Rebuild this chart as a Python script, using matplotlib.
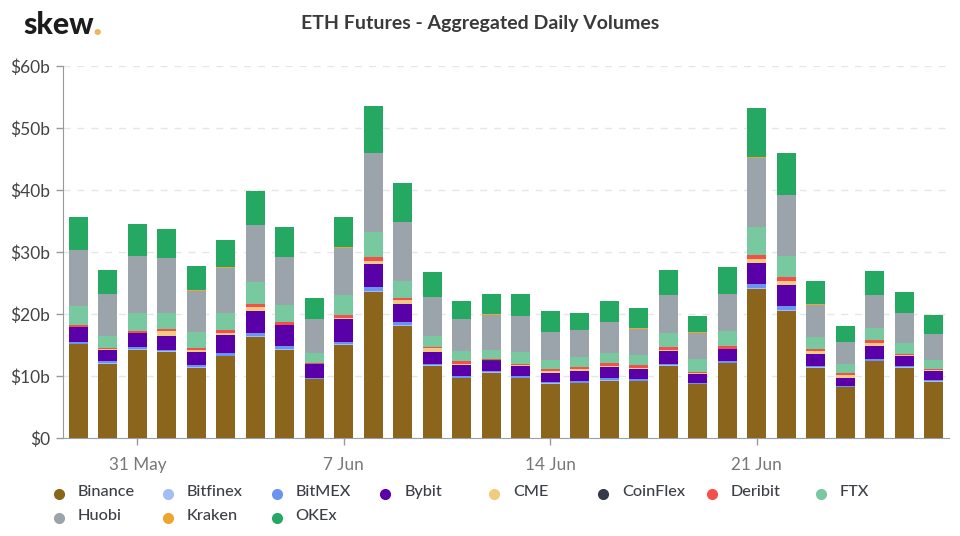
import matplotlib
matplotlib.use('Agg')
import matplotlib.dates as mdates
import matplotlib.pyplot as plt
import numpy as np
import pandas as pd
from matplotlib.lines import Line2D

plt.rcParams['font.family'] = ['Lato', 'DejaVu Sans']

start_date = '2020-05-29'
tick_dates = ['2020-05-31', '2020-06-07', '2020-06-14', '2020-06-21']
y_ticks = [0, 10, 20, 30, 40, 50, 60]
y_labels = ['$0', '$10b', '$20b', '$30b', '$40b', '$50b', '$60b']

binance = [15.1, 12.0, 14.2, 13.9, 11.35, 13.2, 16.35, 14.2, 9.5, 15.0,
           23.6, 18.05, 11.6, 9.6, 10.5, 9.6, 8.7, 8.8, 9.25, 9.2,
           11.6, 8.65, 12.05, 24.0, 20.5, 11.3, 8.2, 12.35, 11.35, 9.05]
bitfinex = [0.1, 0.1, 0.1, 0.1, 0.1, 0.1, 0.15, 0.15, 0.05, 0.1,
            0.15, 0.15, 0.1, 0.1, 0.1, 0.1, 0.1, 0.1, 0.1, 0.05,
            0.1, 0.05, 0.1, 0.15, 0.15, 0.1, 0.05, 0.1, 0.1, 0.1]
bitmex = [0.3, 0.3, 0.3, 0.25, 0.25, 0.4, 0.5, 0.45, 0.15, 0.4,
          0.55, 0.55, 0.3, 0.3, 0.2, 0.3, 0.3, 0.3, 0.25, 0.25,
          0.3, 0.2, 0.25, 0.65, 0.65, 0.25, 0.2, 0.25, 0.2, 0.25]
bybit = [2.35, 1.8, 2.3, 2.25, 2.1, 2.9, 3.5, 3.4, 2.2, 3.65,
         3.7, 2.9, 1.9, 1.75, 1.6, 1.6, 1.45, 1.6, 1.8, 1.6,
         2.0, 1.5, 1.9, 3.4, 3.4, 1.9, 1.25, 2.2, 1.65, 1.45]
cme = [0.1, 0.1, 0.1, 0.75, 0.4, 0.4, 0.55, 0.1, 0.05, 0.25,
       0.55, 0.6, 0.55, 0.25, 0.1, 0.1, 0.3, 0.25, 0.2, 0.2,
       0.2, 0.05, 0.1, 0.6, 0.6, 0.45, 0.45, 0.35, 0.05, 0.05]
coinflex = [0.005] * 30
deribit = [0.35, 0.2, 0.3, 0.25, 0.3, 0.4, 0.55, 0.35, 0.1, 0.5,
           0.7, 0.25, 0.25, 0.4, 0.3, 0.3, 0.35, 0.35, 0.55, 0.5,
           0.5, 0.2, 0.4, 0.75, 0.7, 0.35, 0.25, 0.5, 0.2, 0.2]
ftx = [3.0, 2.0, 2.9, 2.7, 2.65, 2.7, 3.6, 2.8, 1.6, 3.2,
       3.95, 2.75, 1.75, 1.7, 1.4, 1.8, 1.4, 1.6, 1.6, 1.6,
       2.3, 2.15, 2.4, 4.55, 3.35, 2.0, 1.5, 2.05, 1.75, 1.55]
huobi = [8.95, 6.65, 9.15, 8.75, 6.6, 7.35, 9.15, 7.75, 5.55, 7.6,
         12.7, 9.6, 6.3, 5.05, 5.7, 5.85, 4.5, 4.35, 4.95, 4.25,
         6.0, 4.2, 6.05, 11.0, 9.8, 5.15, 3.6, 5.2, 4.8, 4.05]
kraken = [0.05, 0.05, 0.05, 0.05, 0.05, 0.05, 0.05, 0.05, 0.02, 0.05,
          0.08, 0.05, 0.05, 0.05, 0.05, 0.05, 0.05, 0.05, 0.05, 0.05,
          0.05, 0.05, 0.05, 0.2, 0.05, 0.05, 0.05, 0.05, 0.05, 0.05]
okex = [5.3, 3.9, 5.1, 4.7, 3.9, 4.4, 5.5, 4.85, 3.35, 4.95,
        7.5, 6.3, 4.0, 2.85, 3.35, 3.5, 3.35, 2.7, 3.35, 3.2,
        4.05, 2.7, 4.3, 7.95, 6.7, 3.75, 2.55, 3.85, 3.35, 3.1]

names = ['Binance', 'Bitfinex', 'BitMEX', 'Bybit', 'CME', 'CoinFlex',
         'Deribit', 'FTX', 'Huobi', 'Kraken', 'OKEx']
series = [binance, bitfinex, bitmex, bybit, cme, coinflex,
          deribit, ftx, huobi, kraken, okex]
colors = ['#8b651b', '#a3bdf5', '#6b93f2', '#5a00a8', '#f0cb80', '#353a4a',
          '#f4504a', '#78c8a0', '#9ba3ab', '#eea52f', '#24a862']

W, H = 960, 536


def fx(px):
    return px / W


def fy(px):
    return 1 - px / H


def main():
    fig = plt.figure(figsize=(W / 100, H / 100), dpi=100)
    ax = fig.add_axes([fx(63), fy(438), (949 - 63) / W, (438 - 66) / H])
    days = pd.date_range(start_date, periods=len(binance))

    bottom = np.zeros(len(days))
    for values, color in zip(series, colors):
        ax.bar(days, values, width=0.645, bottom=bottom, color=color, zorder=3)
        bottom += np.array(values)

    half = pd.Timedelta(hours=12.6)
    ax.set_xlim(days[0] - half, days[-1] + half)
    ax.set_ylim(0, 60)
    ax.set_yticks(y_ticks)
    ax.set_yticklabels(y_labels, fontsize=12.5, color='#444444')
    ax.set_xticks(pd.to_datetime(tick_dates))
    ax.xaxis.set_major_formatter(mdates.DateFormatter('%-d %b'))
    ax.tick_params(axis='y', length=5, width=1, color='#999999', pad=4)
    ax.tick_params(axis='x', length=5, width=1, color='#999999', pad=9,
                   labelsize=12.3, labelcolor='#777777')
    ax.grid(axis='y', color='#e6e6e6', linestyle=(0, (5, 5)), linewidth=1, zorder=0)
    for side in ('top', 'right'):
        ax.spines[side].set_visible(False)
    ax.spines['left'].set_color('#999999')
    ax.spines['bottom'].set_color('#9aa0ae')

    fig.text(fx(480), fy(24), 'ETH Futures - Aggregated Daily Volumes',
             ha='center', va='center', fontsize=14, fontweight='bold',
             color='#3a3a3a')
    fig.text(fx(23), fy(34), 'skew', ha='left', va='baseline',
             fontsize=21.8, fontweight='black', color='#1c1c1c')
    fig.text(fx(92), fy(35), '.', ha='left', va='baseline', fontsize=28,
             fontweight='black', color='#e8b95a')

    # legend is laid out row first, so it is placed by hand
    for i, (name, color) in enumerate(zip(names, colors)):
        row, col = divmod(i, 8)
        x = 59 + col * 108.8
        y = 494 + row * 24
        fig.add_artist(Line2D([fx(x)], [fy(y)], marker='o', markersize=7,
                              color=color, linestyle='none',
                              transform=fig.transFigure))
        fig.text(fx(x + 19), fy(y - 2), name, ha='left', va='center',
                 fontsize=11.7, fontweight='medium', color='#3c3f48')

    fig.savefig('out.png', dpi=100)
    plt.close(fig)


if __name__ == '__main__':
    main()
